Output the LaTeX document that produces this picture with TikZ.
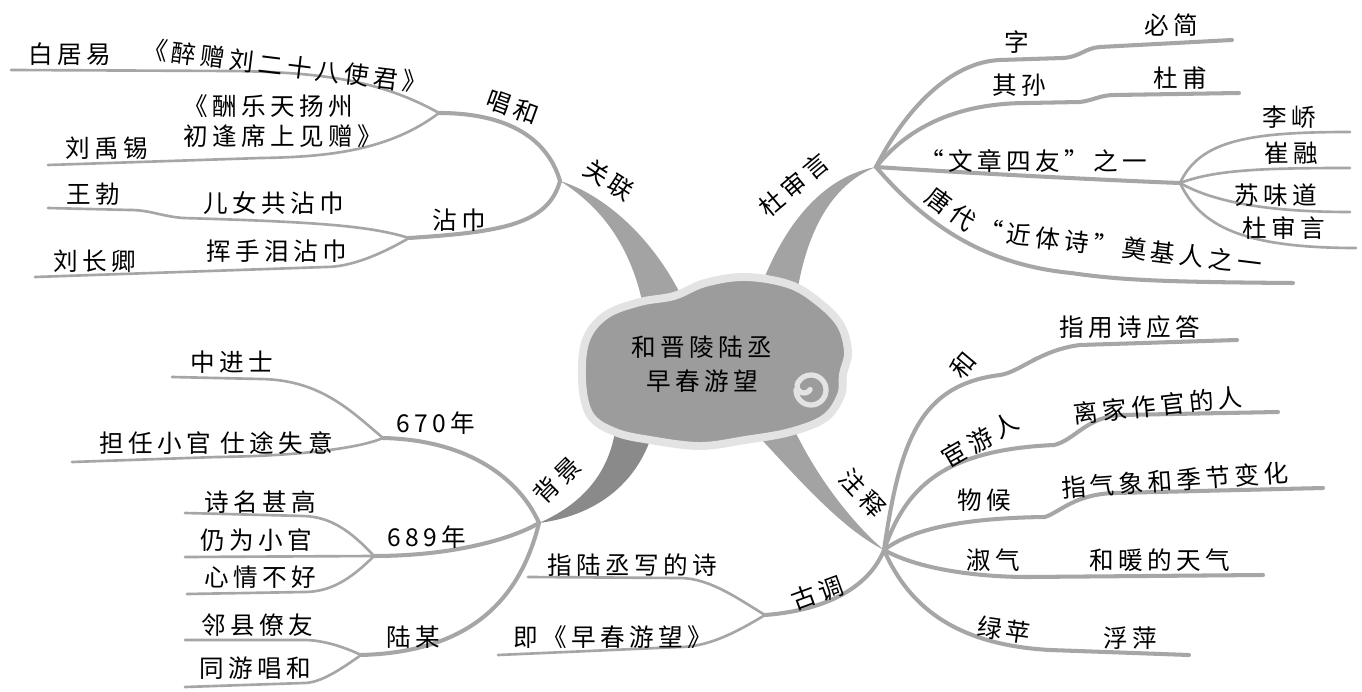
\documentclass[tikz,border=0pt]{standalone}
\usepackage{fontspec}
\setmainfont[LetterSpace=18]{Noto Sans CJK SC}
\usepackage{tikz}
\usetikzlibrary{calc}
\definecolor{branchgray}{gray}{0.65}
\definecolor{trunkgray}{gray}{0.64}
\definecolor{darktrunk}{gray}{0.54}
\definecolor{cloudgray}{gray}{0.61}
\definecolor{rimgray}{gray}{0.89}
\tikzset{
  branch/.style={draw=branchgray, line width=2.3pt, line cap=round},
  twig/.style={draw=branchgray, line width=1.5pt, line cap=round},
  trunk/.style={fill=trunkgray},
  cloudbody/.style={fill=cloudgray, draw=rimgray, line width=4.5pt},
  curl/.style={draw=rimgray, line width=3pt, line cap=round},
  word/.style={font=\fontsize{14}{17}\selectfont, inner sep=0pt},
}

\begin{document}
\begin{tikzpicture}[x=0.02cm, y=-0.02cm]
  \fill[white] (0,0) rectangle (1362,692);
  \useasboundingbox (0,0) rectangle (1362,692);
  % hubs
  \coordinate (gl) at (560,181);
  \coordinate (ds) at (876,167);
  \coordinate (bj) at (539,523);
  \coordinate (zs) at (884,550);
  \coordinate (ch) at (439,113);
  \coordinate (zj) at (409,238);
  \coordinate (ws) at (1180,183);
  \coordinate (y670) at (383,438);
  \coordinate (y689) at (374,556);
  \coordinate (lm) at (361,655);
  \coordinate (gd) at (765,615);
  % trunks out of the cloud
  \fill[trunk] (gl) .. controls (600,193) and (655,235) .. (688,310) -- (644,310) .. controls (634,258) and (610,212) .. (gl) -- cycle;
  \fill[trunk] (ds) .. controls (830,175) and (785,215) .. (756,300) -- (796,300) .. controls (805,235) and (830,185) .. (ds) -- cycle;
  \fill[trunk, fill=darktrunk] (bj) .. controls (580,505) and (610,475) .. (616,425) -- (654,428) .. controls (640,480) and (600,515) .. (bj) -- cycle;
  \fill[trunk] (748,425) .. controls (795,475) and (840,528) .. (zs) .. controls (860,530) and (820,485) .. (792,425) -- cycle;

  % left top: guanlian
  \draw[branch] (gl) .. controls (548,140) and (510,113) .. (ch);
  \draw[branch] (gl) .. controls (548,225) and (500,232) .. (zj);
  \coordinate (bjy) at (11,70);
  \coordinate (lyx) at (48,165);
  \coordinate (wb) at (48,208);
  \coordinate (lcq) at (35,277);
  \draw[twig] (ch) .. controls (380,80) and (320,72) .. (230,71) -- (bjy);
  \draw[twig] (ch) .. controls (390,150) and (330,157) .. (261,158) -- (lyx);
  \draw[twig] (zj) .. controls (370,226) and (320,222) .. (183,218) .. controls (160,216) and (150,210) .. (130,210) -- (wb);
  \draw[twig] (zj) .. controls (380,255) and (350,267) .. (326,267) -- (lcq);

  % right top: dushenyan
  \coordinate (bijian) at (1232,40);
  \coordinate (dufu) at (1239,93);
  \coordinate (lq) at (1350,132);
  \coordinate (cr) at (1350,168);
  \coordinate (swd) at (1350,212);
  \coordinate (dsy) at (1356,248);
  \coordinate (jtr) at (1293,283);
  \draw[branch] (ds) .. controls (905,110) and (950,62) .. (1000,60) -- (1063,58) .. controls (1080,57) and (1085,48) .. (1100,47) -- (bijian);
  \draw[branch] (ds) .. controls (910,125) and (960,103) .. (1028,103) -- (1080,102) .. controls (1095,100) and (1100,95) .. (1115,95) -- (dufu);
  \draw[branch] (ds) .. controls (950,172) and (1100,180) .. (ws);
  \draw[branch] (ds) .. controls (930,230) and (990,265) .. (1071,273) .. controls (1120,280) and (1160,282) .. (jtr);
  \draw[twig] (ws) .. controls (1200,140) and (1250,132) .. (lq);
  \draw[twig] (ws) .. controls (1215,170) and (1260,168) .. (cr);
  \draw[twig] (ws) .. controls (1210,200) and (1260,212) .. (swd);
  \draw[twig] (ws) .. controls (1200,225) and (1240,248) .. (dsy);

  % left bottom: beijing
  \draw[branch] (bj) .. controls (520,480) and (470,440) .. (y670);
  \draw[branch] (bj) .. controls (510,540) and (450,556) .. (y689);
  \draw[branch] (bj) .. controls (520,600) and (470,652) .. (lm);
  \coordinate (zjs) at (172,377);
  \coordinate (drxg) at (72,462);
  \coordinate (smsg) at (185,513);
  \coordinate (rwxg) at (185,557);
  \coordinate (xqbh) at (187,594);
  \coordinate (lxly) at (185,640);
  \coordinate (tych) at (185,687);
  \draw[twig] (y670) .. controls (350,410) and (320,380) .. (261,379) -- (zjs);
  \draw[twig] (y670) .. controls (360,448) and (300,456) .. (217,457) -- (drxg);
  \draw[twig] (y689) .. controls (350,530) and (330,517) .. (304,516) -- (smsg);
  \draw[twig] (y689) -- (rwxg);
  \draw[twig] (y689) .. controls (350,580) and (330,592) .. (304,592) -- (xqbh);
  \draw[twig] (lm) .. controls (340,645) and (320,640) .. (304,640) -- (lxly);
  \draw[twig] (lm) .. controls (340,670) and (320,683) .. (304,683) -- (tych);

  % right bottom: zhushi
  \coordinate (zlxs) at (528,577);
  \coordinate (jzcy) at (498,655);
  \coordinate (yyda) at (1237,340);
  \coordinate (ljzg) at (1278,412);
  \coordinate (qxbh) at (1323,488);
  \coordinate (hndq) at (1263,575);
  \coordinate (fp) at (1189,655);
  \draw[branch] (zs) .. controls (870,585) and (830,610) .. (gd);
  \draw[twig] (gd) .. controls (740,600) and (710,578) .. (680,578) -- (zlxs);
  \draw[twig] (gd) .. controls (740,630) and (710,647) .. (680,647) -- (jzcy);
  \draw[branch] (zs) .. controls (900,440) and (920,385) .. (1000,375) .. controls (1020,372) and (1040,350) .. (1080,345) -- (yyda);
  \draw[branch] (zs) .. controls (905,490) and (940,450) .. (1054,445) .. controls (1075,440) and (1085,418) .. (1120,415) -- (ljzg);
  \draw[branch] (zs) .. controls (910,530) and (960,518) .. (1045,517) .. controls (1060,512) and (1075,494) .. (1115,493) -- (qxbh);
  \draw[branch] (zs) .. controls (920,570) and (980,577) .. (1028,577) -- (hndq);
  \draw[branch] (zs) .. controls (910,610) and (960,645) .. (1050,650) -- (fp);

  % cloud
  \draw[cloudbody] plot[smooth cycle, tension=0.6] coordinates {(582,380) (586,340) (606,315) (640,302) (674,296) (705,283) (745,277) (788,284) (816,300) (840,324) (848,352) (843,374) (841,395) (825,418) (790,432) (745,440) (700,446) (650,440) (615,432) (590,415)};
  \draw[curl] (796,390) arc[start angle=180, end angle=-150, radius=15] arc[start angle=-150, end angle=-330, radius=7];
  \node[word, align=center] (title) at (702,364) {和晋陵陆丞\\[2pt]早春游望};

  % trunk labels
  \node[word, rotate=-33] (guanlian) at (609,180) {关联};
  \node[word, rotate=40] (dushenyan) at (794,185) {杜审言};
  \node[word, rotate=45] (beijing) at (557,480) {背景};
  \node[word, rotate=-47] (zhushi) at (863,493) {注释};

  % guanlian texts
  \node[word, rotate=-20] (changhe) at (513,107) {唱和};
  \node[word] (zhanjin) at (459,220) {沾巾};
  \node[word] (baijuyi) at (70,54) {白居易};
  \node[word, rotate=-7] (zuizeng) at (285,66) {《醉赠刘二十八使君》};
  \node[word, align=left] (choule) at (283,121) {《酬乐天扬州\\初逢席上见赠》};
  \node[word] (liuyuxi) at (107,148) {刘禹锡};
  \node[word] (wangbo) at (93,194) {王勃};
  \node[word] (ernv) at (274,203) {儿女共沾巾};
  \node[word] (liuchangqing) at (95,261) {刘长卿};
  \node[word] (huishou) at (277,251) {挥手泪沾巾};

  % dushenyan texts
  \node[word] (zi) at (1017,42) {字};
  \node[word] (bijiantxt) at (1171,25) {必简};
  \node[word] (qisun) at (1019,85) {其孙};
  \node[word] (duputxt) at (1180,78) {杜甫};
  \node[word] (siyou) at (1033,161) {“文章四友”之一};
  \node[word] (liqiao) at (1289,117) {李峤};
  \node[word] (cuirong) at (1291,153) {崔融};
  \node[word] (suweidao) at (1276,195) {苏味道};
  \node[word] (dusy) at (1284,228) {杜审言};
  \node[word, rotate=-37] (tangdai) at (951,209) {唐代};
  \node[word, rotate=-7] (jintishi) at (1120,247) {“近体诗”奠基人之一};

  % beijing texts
  \node[word] (n670) at (436,423) {670年};
  \node[word] (zhongjinshi) at (232,362) {中进士};
  \node[word] (danren) at (216,443) {担任小官\ 仕途失意};
  \node[word] (n689) at (427,537) {689年};
  \node[word] (shiming) at (260,502) {诗名甚高};
  \node[word] (rengwei) at (256,540) {仍为小官};
  \node[word] (xinqing) at (260,577) {心情不好};
  \node[word] (lumou) at (413,637) {陆某};
  \node[word] (linxian) at (257,625) {邻县僚友};
  \node[word] (tongyou) at (255,668) {同游唱和};

  % zhushi texts
  \node[word, rotate=20] (gudiao) at (817,593) {古调};
  \node[word] (zhilu) at (632,565) {指陆丞写的诗};
  \node[word] (jizao) at (613,637) {即《早春游望》};
  \node[word, rotate=50] (he) at (963,365) {和};
  \node[word] (yingda) at (1130,327) {指用诗应答};
  \node[word, rotate=30] (huanyou) at (980,440) {宦游人};
  \node[word, rotate=6] (lijia) at (1158,405) {离家作官的人};
  \node[word] (wuhou) at (984,500) {物候};
  \node[word, rotate=4] (qixiang) at (1175,480) {指气象和季节变化};
  \node[word] (shuqi) at (993,560) {淑气};
  \node[word] (henuan) at (1160,560) {和暖的天气};
  \node[word, rotate=-8] (lvping) at (1004,630) {绿苹};
  \node[word] (fuping) at (1130,638) {浮萍};
\end{tikzpicture}
\end{document}
